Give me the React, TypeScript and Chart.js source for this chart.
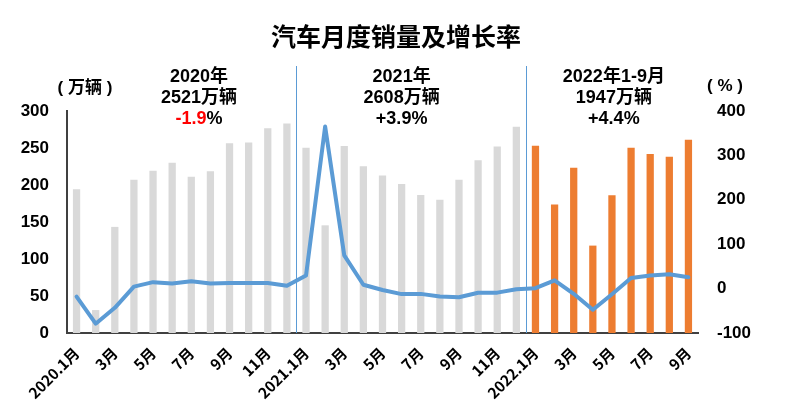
import React, { useEffect, useRef } from 'react';
import { Chart, registerables } from 'chart.js';

Chart.register(...registerables);

const categories = [
  '2020.1月', '2月', '3月', '4月', '5月', '6月', '7月', '8月', '9月', '10月', '11月', '12月',
  '2021.1月', '2月', '3月', '4月', '5月', '6月', '7月', '8月', '9月', '10月', '11月', '12月',
  '2022.1月', '2月', '3月', '4月', '5月', '6月', '7月', '8月', '9月',
];

// monthly sales, 万辆
const sales2020 = [194.1, 31.0, 143.4, 207.0, 219.4, 230.1, 211.2, 218.6, 256.5, 257.3, 276.6, 283.1];
const sales2021 = [250.3, 145.5, 252.6, 225.2, 212.8, 201.5, 186.4, 179.9, 207.1, 233.3, 252.1, 278.6];
const sales2022 = [253.1, 173.7, 223.4, 118.1, 186.2, 250.2, 242.0, 238.3, 261.0];

// year-on-year growth, %
const growth2020 = [-18.0, -79.1, -43.3, 4.4, 14.5, 11.6, 16.4, 11.6, 12.8, 12.5, 12.6, 6.4];
const growth2021 = [29.5, 364.9, 74.9, 8.6, -3.1, -12.4, -11.9, -17.8, -19.6, -9.4, -9.1, -1.6];
const growth2022 = [0.9, 18.7, -11.7, -47.6, -12.6, 23.8, 29.7, 32.1, 25.7];

const leftTicks = [0, 50, 100, 150, 200, 250, 300];
const rightTicks = [-100, 0, 100, 200, 300, 400];

const yearTitles = ['2020年', '2021年', '2022年1-9月'];
const yearTotals = ['2521万辆', '2608万辆', '1947万辆'];
const yearChanges = ['-1.9', '+3.9', '+4.4'];
const yearNoteCenters = [6.4, 17.0, 28.1];
const yearDividers = [11.5, 23.5];

const chartTitle = '汽车月度销量及增长率';
const leftUnit = '( 万辆 )';
const rightUnit = '( % )';

const GRAY = '#d9d9d9';
const ORANGE = '#ED7D31';
const BLUE = '#5B9BD5';
const FONT = '"Liberation Sans", "Noto Sans CJK SC", sans-serif';
const CJK = '"Noto Sans CJK SC", "Liberation Sans", sans-serif';

const overlay = {
  id: 'overlay',
  beforeDatasetsDraw(chart: any) {
    const { ctx, chartArea, scales } = chart;
    const x = scales.x;
    ctx.save();
    ctx.strokeStyle = BLUE;
    ctx.lineWidth = 1;
    for (const v of yearDividers) {
      const px = Math.round(x.getPixelForValue(v)) + 0.5;
      ctx.beginPath();
      ctx.moveTo(px, 66);
      ctx.lineTo(px, chartArea.bottom);
      ctx.stroke();
    }
    ctx.restore();
  },
  afterDraw(chart: any) {
    const { ctx, scales } = chart;
    const x = scales.x;
    ctx.save();
    ctx.fillStyle = '#000';
    ctx.textBaseline = 'middle';
    ctx.textAlign = 'center';
    ctx.font = `bold 25px ${CJK}`;
    ctx.fillText(chartTitle, 396, 36);

    ctx.font = `bold 17px ${FONT}`;
    ctx.fillText(leftUnit, 85, 88);
    ctx.fillText(rightUnit, 725, 86);

    ctx.font = `bold 18px ${FONT}`;
    yearTitles.forEach((t, i) => {
      const cx = x.getPixelForValue(yearNoteCenters[i]);
      ctx.textAlign = 'center';
      ctx.fillStyle = '#000';
      ctx.fillText(t, cx, 77);
      ctx.fillText(yearTotals[i], cx, 98);
      const num = yearChanges[i];
      const wNum = ctx.measureText(num).width;
      const wPct = ctx.measureText('%').width;
      const start = cx - (wNum + wPct) / 2;
      ctx.textAlign = 'left';
      ctx.fillStyle = num.startsWith('-') ? '#FF0000' : '#000';
      ctx.fillText(num, start, 119);
      ctx.fillStyle = '#000';
      ctx.fillText('%', start + wNum, 119);
    });
    ctx.restore();
  },
};

export default function App() {
  const ref = useRef<HTMLCanvasElement | null>(null);

  useEffect(() => {
    document.body.style.margin = '0';
    const sales = [...sales2020, ...sales2021, ...sales2022];
    const growth = [...growth2020, ...growth2021, ...growth2022];
    const barColors = categories.map((_, i) => (i < sales2020.length + sales2021.length ? GRAY : ORANGE));

    const chart = new Chart(ref.current!, {
      type: 'bar',
      data: {
        labels: categories,
        datasets: [
          {
            type: 'line',
            label: '增长率',
            data: growth,
            yAxisID: 'y1',
            borderColor: BLUE,
            borderWidth: 4,
            borderJoinStyle: 'round',
            borderCapStyle: 'round',
            pointRadius: 0,
            tension: 0,
            order: 0,
          } as any,
          {
            type: 'bar',
            label: '销量',
            data: sales,
            yAxisID: 'y',
            backgroundColor: barColors,
            barPercentage: 0.38,
            categoryPercentage: 1,
            order: 1,
          },
        ],
      },
      options: {
        responsive: false,
        animation: false,
        layout: { padding: { top: 111, left: 0, right: 0, bottom: 0 } },
        plugins: { legend: { display: false }, tooltip: { enabled: false }, title: { display: false } },
        scales: {
          x: {
            grid: { display: false, drawTicks: false },
            border: { display: true, color: '#404040', width: 2 },
            ticks: {
              autoSkip: false,
              maxRotation: 45,
              minRotation: 45,
              padding: 11,
              color: '#000',
              font: { family: CJK, size: 15, weight: 'bold' },
              callback: (_v: any, i: number) => (i % 2 === 0 ? categories[i] : ''),
            },
            afterFit: (s: any) => { s.height = 84; },
          },
          y: {
            position: 'left',
            min: 0,
            max: 300,
            grid: { display: false, drawTicks: false },
            border: { display: true, color: '#404040', width: 2 },
            afterBuildTicks: (s: any) => { s.ticks = leftTicks.map((v) => ({ value: v })); },
            ticks: {
              padding: 18,
              color: '#000',
              font: { family: FONT, size: 17, weight: 'bold' },
            },
            afterFit: (s: any) => { s.width = 67; },
          },
          y1: {
            position: 'right',
            min: -100,
            max: 400,
            grid: { display: false, drawTicks: false },
            border: { display: false },
            afterBuildTicks: (s: any) => { s.ticks = rightTicks.map((v) => ({ value: v })); },
            ticks: {
              padding: 19,
              color: '#000',
              font: { family: FONT, size: 17, weight: 'bold' },
            },
            afterFit: (s: any) => { s.width = 90; },
          },
        },
      },
      plugins: [overlay],
    });
    return () => chart.destroy();
  }, []);

  return (
    <div style={{ width: 788, height: 417, background: '#fff' }}>
      <canvas ref={ref} width={788} height={417} style={{ display: 'block' }} />
    </div>
  );
}
